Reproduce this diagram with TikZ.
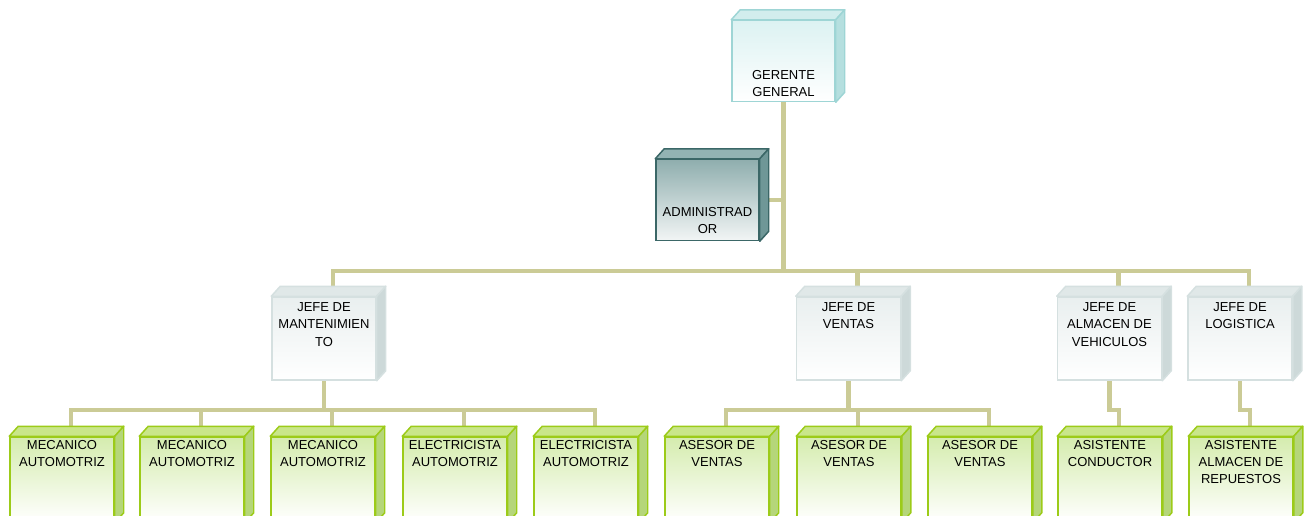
\documentclass[tikz,border=0pt]{standalone}
\usepackage{fontspec}
\setmainfont{Liberation Sans}
\usetikzlibrary{backgrounds}

\newcommand{\abajotxt}[2]{\parbox[c][1.62cm][b]{2.06cm}{\centering #2\par\vspace*{#1}}}
\newcommand{\jefetxt}[1]{\parbox[c][1.66cm][t]{2.08cm}{\centering\vspace*{0.12cm}#1}}
\newcommand{\puestotxt}[1]{\parbox[c][1.7cm][t]{2.08cm}{\centering\vspace*{0.06cm}#1}}

\begin{document}
\begin{tikzpicture}[
	caja/.style={draw, rectangle, inner sep=0pt, line width=0.85pt, font=\fontsize{7.4}{9.7}\selectfont},
	gerente/.style={caja, draw=bordecian, top color=arribacian, bottom color=white},
	admin/.style={caja, draw=bordeadmin, top color=arribaadmin, bottom color=abajoadmin},
	jefe/.style={caja, draw=bordegris, top color=arribagris, bottom color=white},
	puesto/.style={caja, draw=bordeverde, top color=arribaverde, bottom color=white},
	linea/.style={draw=lineacolor, line width=2.8pt}
	]
	\definecolor{lineacolor}{HTML}{CBCB96}
	\definecolor{bordecian}{HTML}{9ED5D5}
	\definecolor{tapacian}{HTML}{D2EDED}
	\definecolor{ladocian}{HTML}{B5DFDF}
	\definecolor{arribacian}{HTML}{DCF2F2}
	\definecolor{bordeadmin}{HTML}{3B6767}
	\definecolor{tapaadmin}{HTML}{93B3B3}
	\definecolor{ladoadmin}{HTML}{6F9797}
	\definecolor{arribaadmin}{HTML}{8FAEAE}
	\definecolor{abajoadmin}{HTML}{F2F5F5}
	\definecolor{bordegris}{HTML}{D5E0E0}
	\definecolor{tapagris}{HTML}{E0E8E8}
	\definecolor{ladogris}{HTML}{CDD9D9}
	\definecolor{arribagris}{HTML}{E9EFEF}
	\definecolor{bordeverde}{HTML}{9CCB19}
	\definecolor{tapaverde}{HTML}{C9E68A}
	\definecolor{ladoverde}{HTML}{B5D67A}
	\definecolor{arribaverde}{HTML}{D5ECAE}
	\useasboundingbox (0,0) rectangle (26.14,-10.3);

	\node[gerente] (gg) at (15.67,-1.22) {\abajotxt{0.1cm}{GERENTE\\GENERAL}};
	\node[admin] (adm) at (14.15,-4.0) {\abajotxt{0.13cm}{ADMINISTRAD\\OR}};

	\node[jefe] (jm) at (6.48,-6.77) {\jefetxt{JEFE DE\\MANTENIMIEN\\TO}};
	\node[jefe] (jv) at (16.97,-6.77) {\jefetxt{JEFE DE\\VENTAS}};
	\node[jefe] (ja) at (22.19,-6.77) {\jefetxt{JEFE DE\\ALMACEN DE\\VEHICULOS}};
	\node[jefe] (jl) at (24.8,-6.77) {\jefetxt{JEFE DE\\LOGISTICA}};

	\node[puesto] (p1) at (1.24,-9.59) {\puestotxt{MECANICO\\AUTOMOTRIZ}};
	\node[puesto] (p2) at (3.84,-9.59) {\puestotxt{MECANICO\\AUTOMOTRIZ}};
	\node[puesto] (p3) at (6.46,-9.59) {\puestotxt{MECANICO\\AUTOMOTRIZ}};
	\node[puesto] (p4) at (9.10,-9.59) {\puestotxt{ELECTRICISTA\\AUTOMOTRIZ}};
	\node[puesto] (p5) at (11.72,-9.59) {\puestotxt{ELECTRICISTA\\AUTOMOTRIZ}};
	\node[puesto] (p6) at (14.34,-9.59) {\puestotxt{ASESOR DE\\VENTAS}};
	\node[puesto] (p7) at (16.98,-9.59) {\puestotxt{ASESOR DE\\VENTAS}};
	\node[puesto] (p8) at (19.60,-9.59) {\puestotxt{ASESOR DE\\VENTAS}};
	\node[puesto] (p9) at (22.20,-9.59) {\puestotxt{ASISTENTE\\CONDUCTOR}};
	\node[puesto] (p10) at (24.82,-9.59) {\puestotxt{ASISTENTE\\ALMACEN DE\\REPUESTOS}};

	\foreach \n/\col in {gg/cian, adm/admin, jm/gris, jv/gris, ja/gris, jl/gris, p1/verde, p2/verde, p3/verde, p4/verde, p5/verde, p6/verde, p7/verde, p8/verde, p9/verde, p10/verde} {
		\filldraw[draw=borde\col, fill=tapa\col, line width=0.85pt, line join=round] (\n.north west) -- ++(0.18,0.2) -- ([shift={(0.18,0.2)}]\n.north east) -- (\n.north east) -- cycle;
		\filldraw[draw=borde\col, fill=lado\col, line width=0.85pt, line join=round] (\n.north east) -- ++(0.18,0.2) -- ([shift={(0.18,0.2)}]\n.south east) -- (\n.south east) -- cycle;
	}

	\begin{pgfonlayer}{background}
		\coordinate (barra1) at (0,-5.42);
		\coordinate (barra2) at (0,-8.2);
		\foreach \j in {jm,jv,ja,jl}
			\draw[linea] (gg.south) -- (gg.south |- barra1) -| ([shift={(0.18,0.2)}]\j.north);
		\draw[linea] (adm.east) -- (adm.east -| gg.south);
		\foreach \j/\p in {jm/p1,jm/p2,jm/p3,jm/p4,jm/p5,jv/p6,jv/p7,jv/p8,ja/p9,jl/p10}
			\draw[linea] (\j.south) -- (\j.south |- barra2) -| ([shift={(0.18,0.2)}]\p.north);
	\end{pgfonlayer}
\end{tikzpicture}
\end{document}
